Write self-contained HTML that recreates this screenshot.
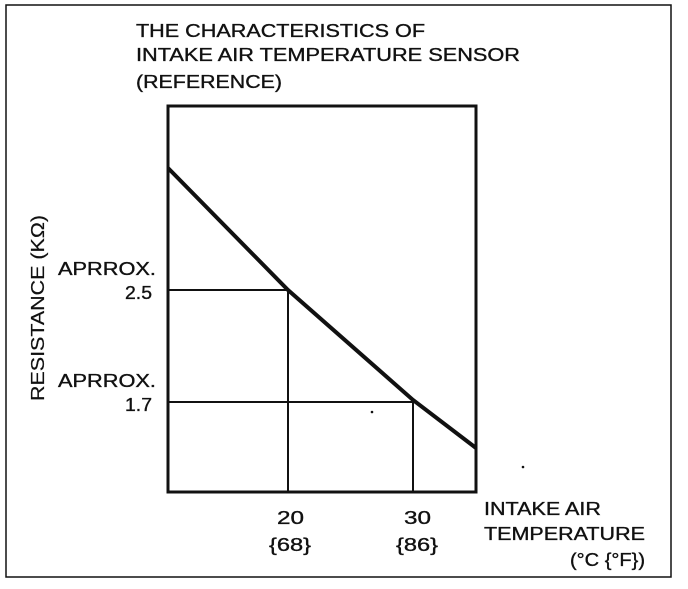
<!DOCTYPE html>
<html><head><style>
body{margin:0;background:#fff;}
svg text{font-family:"Liberation Sans",sans-serif;fill:#111;stroke:#111;stroke-width:0.35;}
</style></head><body>
<svg width="688" height="584" viewBox="0 0 688 584" xmlns="http://www.w3.org/2000/svg">
<rect x="0" y="0" width="688" height="584" fill="#fff"/>
<rect x="6" y="5" width="665" height="572" fill="none" stroke="#111" stroke-width="1.5"/>
<g font-size="18">
<text x="136" y="37" textLength="289" lengthAdjust="spacingAndGlyphs">THE CHARACTERISTICS OF</text>
<text x="136" y="61" textLength="384" lengthAdjust="spacingAndGlyphs">INTAKE AIR TEMPERATURE SENSOR</text>
<text x="136" y="88" textLength="146" lengthAdjust="spacingAndGlyphs">(REFERENCE)</text>
</g>
<rect x="168" y="106" width="308" height="386" fill="none" stroke="#111" stroke-width="3"/>
<path d="M168,168 L288,290 L413,400 L476,448" fill="none" stroke="#111" stroke-width="4"/>
<path d="M168,290 H288 V492 M168,402 H413 V492" fill="none" stroke="#111" stroke-width="2"/>
<g font-size="18">
<text x="58" y="275" textLength="98" lengthAdjust="spacingAndGlyphs">APRROX.</text>
<text x="125" y="299" textLength="27" lengthAdjust="spacingAndGlyphs">2.5</text>
<text x="58" y="387" textLength="98" lengthAdjust="spacingAndGlyphs">APRROX.</text>
<text x="125" y="411" textLength="27" lengthAdjust="spacingAndGlyphs">1.7</text>
</g>
<text x="0" y="0" font-size="18" textLength="186" lengthAdjust="spacingAndGlyphs" transform="translate(44,401) rotate(-90)" style="stroke-width:0.2">RESISTANCE (KΩ)</text>
<g font-size="18">
<text x="277" y="524" textLength="27" lengthAdjust="spacingAndGlyphs">20</text>
<text x="269" y="551" textLength="42" lengthAdjust="spacingAndGlyphs">{68}</text>
<text x="404" y="524" textLength="27" lengthAdjust="spacingAndGlyphs">30</text>
<text x="396" y="551" textLength="42" lengthAdjust="spacingAndGlyphs">{86}</text>
</g>
<g font-size="18">
<text x="484" y="515" textLength="117" lengthAdjust="spacingAndGlyphs">INTAKE AIR</text>
<text x="484" y="540" textLength="161" lengthAdjust="spacingAndGlyphs">TEMPERATURE</text>
<text x="570" y="566" textLength="75" lengthAdjust="spacingAndGlyphs">(°C {°F})</text>
</g>
<circle cx="372" cy="412" r="1.3" fill="#111"/>
<circle cx="523" cy="467" r="1.3" fill="#111"/>
</svg>
</body></html>
